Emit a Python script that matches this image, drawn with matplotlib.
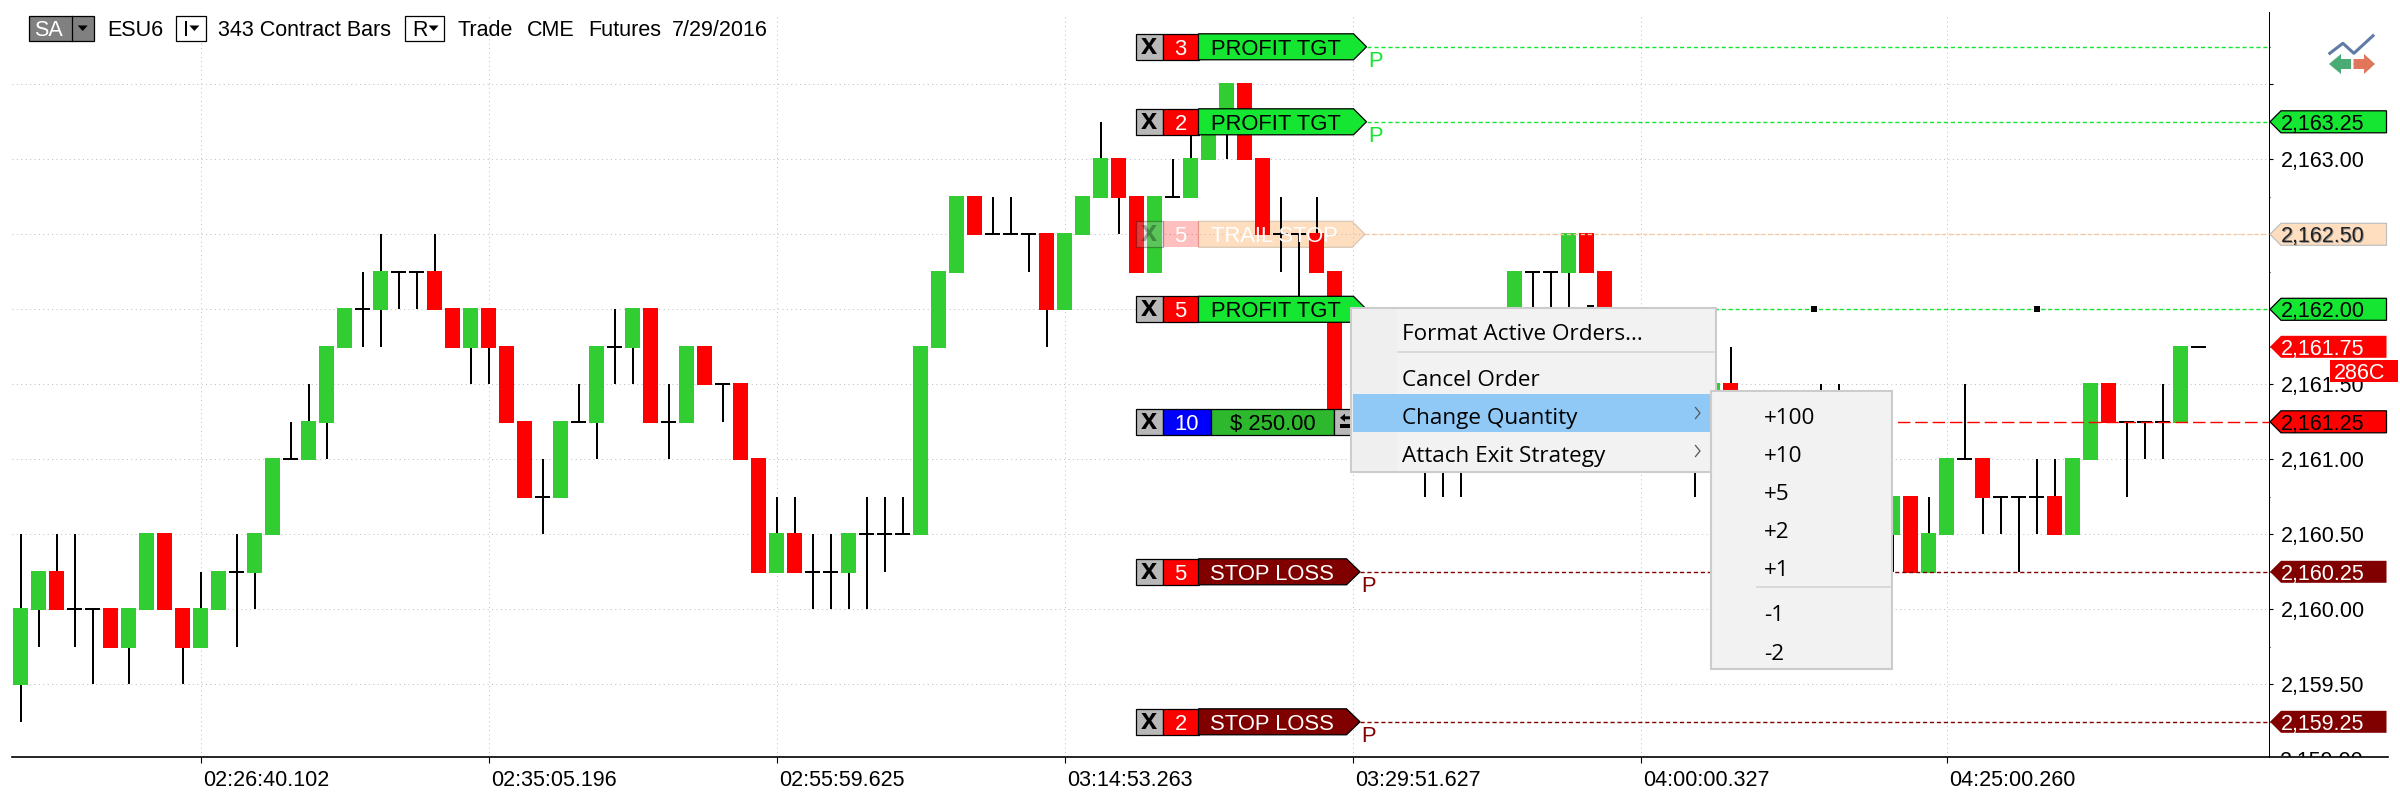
import matplotlib
matplotlib.use("Agg")
import matplotlib.pyplot as plt
from matplotlib.patches import Polygon, Rectangle
from matplotlib.transforms import ScaledTranslation

plt.rcParams['font.family'] = ['Liberation Sans', 'DejaVu Sans']

BASE = 2100.0
# Prices are offsets from BASE; None = bar entirely hidden by the context menus
opens = [59.5,60,60.25,60,60,60,59.75,60,60.5,60,
         59.75,60,60.25,60.25,60.5,61,61,61.25,61.75,62,
         62,62.25,62.25,62.25,62,61.75,62,61.75,61.25,60.75,
         60.75,61.25,61.25,61.75,61.75,62,61.25,61.25,61.75,61.5,
         61.5,61,60.25,60.5,60.25,60.25,60.25,60.5,60.5,60.5,
         60.5,61.75,62.25,62.75,62.5,62.5,62.5,62.5,62,62.5,
         62.75,63,62.75,62.25,62.75,62.75,63,63.25,63.5,63,
         62.5,62.5,62.5,62.25,None,None,None,None,61,61,
         61,None,None,62,62.25,62.25,62.25,62.5,62.25,None,
         None,None,None,61,61.25,61.5,None,None,None,None,
         61.25,61.25,None,None,60.5,60.75,60.25,60.5,61,61,
         60.75,60.75,60.75,60.75,60.5,61,61.5,61.25,61.25,61.25,
         61.25,61.75]
closes = [60,60.25,60,60,60,59.75,60,60.5,60,59.75,
          60,60.25,60.25,60.5,61,61,61.25,61.75,62,62,
          62.25,62.25,62.25,62,61.75,62,61.75,61.25,60.75,60.75,
          61.25,61.25,61.75,61.75,62,61.25,61.25,61.75,61.5,61.5,
          61,60.25,60.5,60.25,60.25,60.25,60.5,60.5,60.5,60.5,
          61.75,62.25,62.75,62.5,62.5,62.5,62.5,62,62.5,62.75,
          63,62.75,62.25,62.75,62.75,63,63.25,63.5,63,62.5,
          62.5,62.5,62.25,61.25,None,None,None,None,61,61,
          61,None,None,62.25,62.25,62.25,62.5,62.25,61.75,None,
          None,None,None,61,61.5,61.25,None,None,None,None,
          61.25,61.25,None,None,60.75,60.25,60.5,61,61,60.75,
          60.75,60.75,60.75,60.5,61,61.5,61.25,61.25,61.25,61.25,
          61.75,61.75]
highs = [60.5,60.25,60.5,60.5,60,60,60,60.5,60.5,60,
         60.25,60.25,60.5,60.5,61,61.25,61.5,61.75,62,62.25,
         62.5,62.25,62.25,62.5,62,62,62,61.75,61.25,61,
         61.25,61.5,61.75,62,62,62,61.5,61.75,61.75,61.5,
         61.5,61,60.75,60.75,60.5,60.5,60.5,60.75,60.75,60.75,
         61.75,62.25,62.75,62.75,62.75,62.75,62.5,62.5,62.5,62.75,
         63.25,63,62.75,62.75,63,63.25,63.25,63.5,63.5,63,
         62.75,62.5,62.75,62.25,None,None,None,None,61,61,
         61,None,None,62.25,62.25,62.25,62.5,62.5,62.25,None,
         None,None,None,61,61.5,61.75,None,None,None,None,
         61.5,61.5,None,None,60.75,60.75,60.75,61,61.5,61,
         60.75,60.75,61,61,61,61.5,61.5,61.25,61.25,61.5,
         61.75,61.75]
lows = [59.25,59.75,60,59.75,59.5,59.75,59.5,60,60,59.5,
        59.75,60,59.75,60,60.5,61,61,61,61.75,61.75,
        61.75,62,62,62,61.75,61.5,61.5,61.25,60.75,60.5,
        60.75,61.25,61,61.5,61.5,61.25,61,61.25,61.5,61.25,
        61,60.25,60.25,60.25,60,60,60,60,60.25,60.5,
        60.5,61.75,62.25,62.5,62.5,62.5,62.25,61.75,62,62.5,
        62.75,62.5,62.25,62.25,62.75,62.75,63,63,63,62.5,
        62.25,62,62.25,61.25,None,None,None,None,60.75,60.75,
        60.75,None,None,62,62,62,62,62.25,61.75,None,
        None,None,None,60.75,61.25,61.25,None,None,None,None,
        61,61,None,None,60.25,60.25,60.25,60.5,61,60.5,
        60.5,60.25,60.5,60.5,60.5,61,61.25,60.75,61,61,
        61.25,61.75]

time_ticks = [10, 26, 42, 58, 74, 90, 107]
time_labels = ['02:26:40.102', '02:35:05.196', '02:55:59.625', '03:14:53.263',
               '03:29:51.627', '04:00:00.327', '04:25:00.260']
price_majors = [2159.5, 2160.0, 2160.5, 2161.0, 2161.5, 2162.0, 2162.5, 2163.0, 2163.5]
price_minors = [2159.25, 2159.75, 2160.25, 2160.75, 2161.25, 2161.75, 2162.25, 2162.75, 2163.25, 2163.75]

order_qty = ['3', '2', '5', '5', '5', '2']
order_names = ['PROFIT TGT', 'PROFIT TGT', 'TRAIL STOP', 'PROFIT TGT', 'STOP LOSS', 'STOP LOSS']
order_prices = [2163.75, 2163.25, 2162.5, 2162.0, 2160.25, 2159.25]
position_price = 2161.25
marker_bars = [99.6, 112.0]
marker_price = 2162.0

menu_items = ['Format Active Orders...', 'Cancel Order', 'Change Quantity', 'Attach Exit Strategy']
sub_items = ['+100', '+10', '+5', '+2', '+1', '-1', '-2']

GREEN = '#32CD32'
RED = '#FF0000'
TAG_GREEN = '#14E632'
DARK = '#800000'
PEACH = '#FFDDBF'
W, H = 2400, 800
PX_X0, STEP = 20.7, 18.0
PX_Y0, PPU = 159.3, 150.0   # pixel row of 2163.00, pixels per point

def py(p):
    return PX_Y0 + (2163.0 - p) * PPU

fig = plt.figure(figsize=(24, 8), dpi=100, facecolor='white')
L, R, T, B = 12.0, 2268.6, 15.0, 757.0
rect = [L / W, 1 - B / H, (R - L) / W, (B - T) / H]
under = fig.add_axes([0, 0, 1, 1], zorder=0)
ax = fig.add_axes(rect, zorder=1)
over = fig.add_axes([0, 0, 1, 1], zorder=2)
for a in (under, over):
    a.set_xlim(0, W)
    a.set_ylim(H, 0)
    a.axis('off')
over.patch.set_alpha(0)
ax.patch.set_alpha(0)

ax.set_xlim((L - PX_X0) / STEP, (R - PX_X0) / STEP)
ax.set_ylim(2163.0 - (B - PX_Y0) / PPU, 2163.0 + (PX_Y0 - T) / PPU)
for s in ('top', 'left', 'right', 'bottom'):
    ax.spines[s].set_visible(False)

# grid & ticks
ax.set_axisbelow(True)
ax.grid(True, which='major', color='#BEBEBE', lw=0.72, ls=(0, (1, 3.4)))
ax.set_xticks(time_ticks)
ax.set_xticklabels(time_labels, fontsize=15.5, ha='left')
ax.tick_params(axis='x', length=4, width=0.8, pad=5)
offset = ScaledTranslation(2.5 / 100, 0, fig.dpi_scale_trans)
for lbl in ax.get_xticklabels():
    lbl.set_transform(lbl.get_transform() + offset)
ax.yaxis.tick_right()
ax.set_yticks(price_majors)
ax.set_yticklabels([f'{v:,.2f}' if v != 2163.5 else '' for v in price_majors], fontsize=15.5)
ax.set_yticks(price_minors, minor=True)
ax.tick_params(axis='y', which='major', length=3, width=0.8, pad=6)
ax.tick_params(axis='y', which='minor', length=1, width=0.8)

# candles
for i, (o, c, h, l) in enumerate(zip(opens, closes, highs, lows)):
    if o is None:
        continue
    o, c, h, l = o + BASE, c + BASE, h + BASE, l + BASE
    ax.vlines(i, l, h, color='black', lw=1.44, zorder=3)
    if o == c:
        ax.hlines(o, i - 0.42, i + 0.42, color='black', lw=1.44, zorder=3)
    else:
        col = GREEN if c > o else RED
        ax.bar(i, abs(c - o), bottom=min(o, c), width=13.2 / STEP, color=col,
               edgecolor=col, lw=1.44, zorder=4)
# small stub just above the menu
ax.hlines(2162.02, 87.0, 87.4, color='black', lw=1.44, zorder=3)

# order lines
xr = ax.get_xlim()[1]
px2i = lambda px: (px - PX_X0) / STEP
line_styles = {'PROFIT TGT': TAG_GREEN, 'TRAIL STOP': '#F5C9A0', 'STOP LOSS': DARK}
tips = {'PROFIT TGT': 1366.5, 'TRAIL STOP': 1365.0, 'STOP LOSS': 1360.0}
for name, p in zip(order_names, order_prices):
    ax.hlines(p, px2i(tips[name]), xr, color=line_styles[name], lw=1.0,
              ls=(0, (3, 2)), zorder=5)
ax.hlines(position_price, px2i(1880), xr, color='#FF0000', lw=1.0, ls=(0, (9, 3.5)), zorder=5)
ax.plot(marker_bars, [marker_price] * len(marker_bars), ls='', marker='s', ms=5,
        color='black', mew=0, zorder=6)

# chrome axis lines
over.plot([12, 2387.7], [B, B], color='black', lw=1.2)
over.plot([R, R], [12, B], color='black', lw=0.72)

# clipped bottom tick label
t = over.text(2280, py(2159.0) + 7.7, '2,159.00', fontsize=15.5, va='baseline', ha='left', color='black')
t.set_clip_path(Rectangle((2270, 700), 120, B - 700, transform=over.transData))
t.set_clip_on(True)

FS = 15.8
def txt(a, x, yc, s, color='black', fs=FS, ha='left', **kw):
    return a.text(x, yc + fs * 0.5, s, color=color, fontsize=fs, ha=ha, va='baseline', zorder=20, **kw)

def box(a, x0, x1, yc, hh, fc, ec='black', alpha=1.0, z=10):
    a.add_patch(Rectangle((x0, yc - hh), x1 - x0, 2 * hh, fc=fc, ec=ec, lw=0.9, alpha=alpha, zorder=z))

def x_box(yc, alpha=1.0):
    box(over, 1136, 1162.5, yc, 13, '#B8B8B8', alpha=alpha)
    over.text(1149.2, yc + 6.8, 'x', fontsize=21, fontweight='bold', ha='center', va='baseline',
              color='black', alpha=alpha, zorder=20)

# order tags
for q, name, p in zip(order_qty, order_names, order_prices):
    yc = py(p)
    trail = name == 'TRAIL STOP'
    x_box(yc, 0.3 if trail else 1.0)
    box(over, 1162.5, 1198.5, yc, 13, RED, ec=('none' if trail else 'black'), alpha=0.25 if trail else 1.0)
    if trail:
        under.add_patch(Polygon([(1198.5, yc - 13), (1352, yc - 13), (1365, yc), (1352, yc + 13), (1198.5, yc + 13)],
                                fc=PEACH, ec='#D8C8B8', lw=0.9))
        txt(over, 1180.5, yc, q, color='white', ha='center')
        txt(over, 1210.6, yc, name, color='white')
    else:
        fc = TAG_GREEN if 'PROFIT' in name else DARK
        tcol = 'black' if 'PROFIT' in name else 'white'
        xb, xt = (1353.5, 1366.5) if 'PROFIT' in name else (1346.5, 1360)
        over.add_patch(Polygon([(1198.5, yc - 13), (xb, yc - 13), (xt, yc), (xb, yc + 13), (1198.5, yc + 13)],
                               fc=fc, ec='black', lw=0.9, zorder=10))
        txt(over, 1180.5, yc, q, color='white', ha='center')
        txt(over, 1209.5 if 'STOP' in name else 1210.6, yc, name, color=tcol)
        pcol = TAG_GREEN if 'PROFIT' in name else DARK
        if p != 2162.0:
            txt(over, 1368 if 'PROFIT' in name else 1361, yc + 12, 'P', color=pcol)

# position row
yc = py(position_price)
x_box(yc)
box(over, 1162.5, 1211.4, yc, 13, '#0000FF')
txt(over, 1187, yc, '10', color='white', ha='center')
box(over, 1211.4, 1334, yc, 13, '#2EB82E')
txt(over, 1272.5, yc, '$ 250.00', ha='center')
box(over, 1334, 1352, yc, 13, '#B8B8B8')
over.add_patch(Polygon([(1340, yc - 4), (1345, yc - 8), (1345, yc - 5.5), (1351, yc - 5.5), (1351, yc - 2.5),
                        (1345, yc - 2.5), (1345, yc)], fc='black', ec='none', zorder=12))
over.add_patch(Rectangle((1340, yc + 2.5), 11, 4, fc='black', ec='none', zorder=12))

# right-hand price tags
def price_tag(p, fc, ec, tc, shadow=False):
    yc = py(p)
    over.add_patch(Polygon([(2270, yc), (2281, yc - 11), (2386.5, yc - 11), (2386.5, yc + 11), (2281, yc + 11)],
                           fc=fc, ec=ec, lw=0.9, zorder=10))
    if shadow:
        txt(over, 2281.5, yc + 0.5, f'{p:,.2f}', color='#999999', fs=15.5)
    txt(over, 2280.7, yc, f'{p:,.2f}', color=tc, fs=15.5)

price_tag(2163.25, TAG_GREEN, 'black', 'black')
price_tag(2162.5, PEACH, '#C0C0C0', '#222222', shadow=True)
price_tag(2162.0, TAG_GREEN, 'black', 'black')
price_tag(2161.75, RED, 'none', 'white')
price_tag(2161.25, RED, 'black', 'black')
price_tag(2160.25, DARK, 'none', 'white')
price_tag(2159.25, DARK, 'none', 'white')
over.add_patch(Rectangle((2329.8, 360), 68.6, 22, fc=RED, ec='none', zorder=11))
txt(over, 2334, 371.5, '286C', color='white', fs=15.5)

# icon
icon_x = [2329.8, 2342.9, 2353.9, 2373.0]
icon_y = [53.3, 43.3, 53.3, 35.7]
over.plot(icon_x, icon_y, color='#5F7BA6', lw=2.2)
over.add_patch(Polygon([(2329, 64), (2341, 54), (2341, 59), (2351, 59), (2351, 69), (2341, 69), (2341, 74)],
                       fc='#4AAB74', ec='none'))
over.add_patch(Polygon([(2353.5, 59), (2364, 59), (2364, 54), (2375, 64), (2364, 74), (2364, 69), (2353.5, 69)],
                       fc='#E0765A', ec='none'))

# header
def button(x0, x1, fc):
    over.add_patch(Rectangle((x0, 16), x1 - x0, 24.5, fc=fc, ec='black', lw=0.9, zorder=10))
def tri(xc):
    over.add_patch(Polygon([(xc - 5, 25.5), (xc + 5, 25.5), (xc, 31)], fc='black', ec='none', zorder=12))
button(28.7, 93.8, '#808080')
over.plot([72.3, 72.3], [16, 40.5], color='black', lw=0.9, zorder=11)
txt(over, 34, 28, 'SA', color='white', fs=15.5)
tri(82.7)
txt(over, 106.8, 28, 'ESU6', fs=15.5)
button(176.4, 205.5, 'white')
txt(over, 183, 28, 'I', fs=15.5)
tri(194.4)
txt(over, 218.5, 28, '343 Contract Bars', fs=15.5)
button(405.3, 444.3, 'white')
txt(over, 412, 28, 'R', fs=15.5)
tri(433.6)
txt(over, 458, 28, 'Trade', fs=15.5)
txt(over, 526.6, 28, 'CME', fs=15.5)
txt(over, 588.6, 28, 'Futures', fs=15.5)
txt(over, 671.6, 28, '7/29/2016', fs=15.5)

# context menus
MF = ['Open Sans', 'Noto Sans']
MS = 16.2
over.add_patch(Rectangle((1350.6, 308), 365.4, 164, fc='#F2F2F2', ec='#CCCCCC', lw=1.5, zorder=30))
over.add_patch(Rectangle((1352, 309), 45, 162, fc='#EFEFEF', ec='none', zorder=31))
over.plot([1397.5, 1714], [352.3, 352.3], color='#D4D4D4', lw=1.2, zorder=31)
over.add_patch(Rectangle((1353, 394), 358, 38, fc='#90C8F6', ec='none', zorder=32))
for s, y in zip(menu_items, [333, 378, 416.5, 454.5]):
    over.text(1401.6, y + 7.5, s, fontsize=MS, family=MF, color='black', ha='left', va='baseline', zorder=35)
for y in (413, 451):
    over.plot([1695.5, 1700, 1695.5], [y - 5.5, y, y + 5.5], color='#555555', lw=0.9, zorder=35)
over.add_patch(Rectangle((1711, 391), 181, 278, fc='#F2F2F2', ec='#CCCCCC', lw=1.5, zorder=33))
over.plot([1757, 1889.8], [587.3, 587.3], color='#D4D4D4', lw=1.2, zorder=34)
for s, y in zip(sub_items, [416, 454.5, 492.5, 531, 568.5, 613.5, 652]):
    over.text(1764, y + 7.5, s, fontsize=MS, family=MF, color='black', ha='left', va='baseline', zorder=35)

fig.savefig('out.png', dpi=100)
